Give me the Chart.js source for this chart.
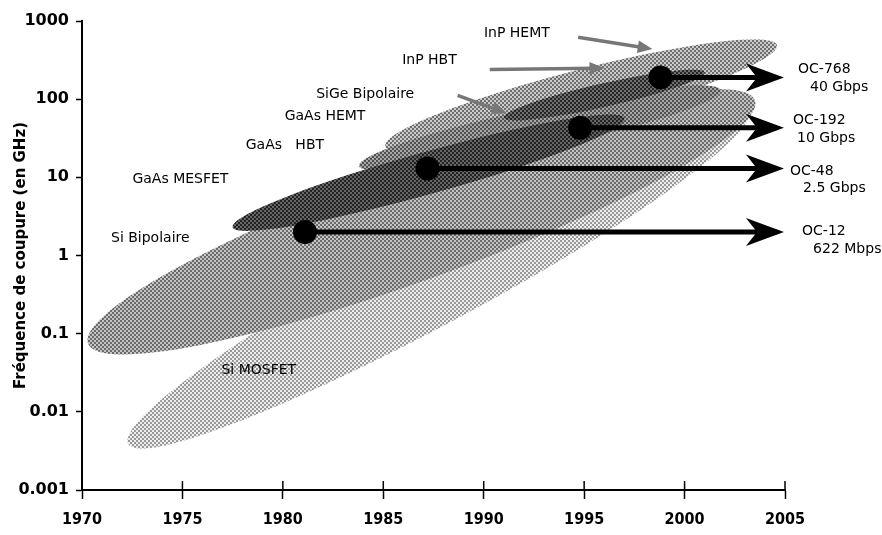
<!DOCTYPE html>
<html>
<head>
<meta charset="utf-8">
<script src="https://cdn.jsdelivr.net/npm/chart.js@4.4.1/dist/chart.umd.min.js"></script>
<style>
  html, body { margin: 0; padding: 0; background: #fff; }
  #wrap { width: 882px; height: 535px; }
</style>
</head>
<body>
<div id="wrap"><canvas id="myChart" width="882" height="535"></canvas></div>
<script>
// axes
const yearTicks = [1970, 1975, 1980, 1985, 1990, 1995, 2000, 2005];
const freqTicks = [0.001, 0.01, 0.1, 1, 10, 100, 1000];
const freqTickLabels = ['0.001', '0.01', '0.1', '1', '10', '100', '1000'];

// technology regions: start tip, end tip (year, GHz), half thickness in decades
const techNames  = ['Si MOSFET', 'Si Bipolaire', 'GaAs HEMT', 'GaAs HBT', 'GaAs MESFET', 'InP HBT'];
const techStart  = [[1972.3, 0.0039], [1970.3, 0.075], [1985.1, 25], [1983.8, 14], [1977.5, 2.3], [1991.0, 58]];
const techEnd    = [[2003.2, 72], [2003.5, 97], [2004.6, 490], [2001.8, 130], [1997.0, 57], [2001.0, 220]];
const techSpread = [0.58, 0.72, 0.33, 0.26, 0.27, 0.15];

// labels of the technologies (text, year, GHz)
const techLabels    = ['InP HEMT', 'InP HBT', 'SiGe Bipolaire', 'GaAs HEMT', 'GaAs   HBT', 'GaAs MESFET', 'Si Bipolaire', 'Si MOSFET'];
const techLabelYear = [1991.65, 1987.3, 1984.1, 1982.1, 1980.1, 1974.9, 1973.4, 1978.8];
const techLabelFreq = [700, 316, 115, 60, 25.5, 9.3, 1.67, 0.034];

// small grey pointers to the InP / SiGe regions
const pointerFrom = [[1994.7, 620], [1990.3, 240], [1988.7, 112]];
const pointerTo   = [[1998.4, 437], [1996.0, 250], [1991.15, 66]];

// milestones and the optical link they allow
const milestoneYear = [1981.1, 1987.2, 1994.8, 1998.8];
const milestoneFreq = [2.0, 13, 43, 190];
const arrowEndYear = 2004.6;
const linkNames = [['OC-12', '622 Mbps'], ['OC-48', '2.5 Gbps'], ['OC-192', '10 Gbps'], ['OC-768', '40 Gbps']];
const linkLabelYear = [[2005.85, 2006.4], [2005.25, 2005.9], [2005.4, 2005.6], [2005.65, 2006.25]];
const linkLabelFreq = [[2.06, 1.21], [11.8, 7.13], [53.4, 31.3], [241, 142]];

// halftone tones (dark dot, light dot) per region
const techTones = [['#999999', '#eeeeee'], ['#6a6a6a', '#c4c4c4'], ['#6e6e6e', '#cccccc'],
                   ['#505050', '#a8a8a8'], ['#222222', '#666666'], ['#252525', '#707070']];

function halftone(ctx, dark, light) {
  const c = document.createElement('canvas');
  c.width = 4; c.height = 4;
  const g = c.getContext('2d');
  g.fillStyle = light; g.fillRect(0, 0, 4, 4);
  g.fillStyle = dark; g.fillRect(0, 0, 2, 2); g.fillRect(2, 2, 2, 2);
  return ctx.createPattern(c, 'repeat');
}

const FONT = '"DejaVu Sans", Verdana, sans-serif';

const regionsPlugin = {
  id: 'regions',
  beforeDatasetsDraw(chart) {
    const ctx = chart.ctx, xs = chart.scales.x, ys = chart.scales.y, a = chart.chartArea;
    const decade = ys.getPixelForValue(1) - ys.getPixelForValue(10);
    ctx.save();
    ctx.beginPath();
    ctx.rect(a.left, a.top, a.right - a.left, a.bottom - a.top);
    ctx.clip();
    techNames.forEach((name, i) => {
      const x1 = xs.getPixelForValue(techStart[i][0]), y1 = ys.getPixelForValue(techStart[i][1]);
      const x2 = xs.getPixelForValue(techEnd[i][0]), y2 = ys.getPixelForValue(techEnd[i][1]);
      const rx = Math.hypot(x2 - x1, y2 - y1) / 2;
      ctx.beginPath();
      ctx.ellipse((x1 + x2) / 2, (y1 + y2) / 2, rx, techSpread[i] * decade, Math.atan2(y2 - y1, x2 - x1), 0, Math.PI * 2);
      ctx.fillStyle = halftone(ctx, techTones[i][0], techTones[i][1]);
      ctx.fill();
    });
    ctx.restore();
  }
};

const notesPlugin = {
  id: 'notes',
  afterDatasetsDraw(chart) {
    const ctx = chart.ctx, xs = chart.scales.x, ys = chart.scales.y, a = chart.chartArea;
    ctx.save();

    // ticks crossing the time axis
    ctx.strokeStyle = '#000';
    ctx.lineWidth = 1.5;
    yearTicks.slice(1).forEach(v => {
      const px = xs.getPixelForValue(v);
      ctx.beginPath();
      ctx.moveTo(px, a.bottom - 9);
      ctx.lineTo(px, a.bottom);
      ctx.stroke();
    });

    // arrow heads at the end of each milestone line
    chart.data.datasets.forEach((ds, i) => {
      const pts = chart.getDatasetMeta(i).data;
      const tipX = pts[pts.length - 1].x + 7, tipY = pts[pts.length - 1].y;
      ctx.fillStyle = '#000';
      ctx.beginPath();
      ctx.moveTo(tipX, tipY);
      ctx.lineTo(tipX - 38, tipY - 14);
      ctx.lineTo(tipX - 27, tipY);
      ctx.lineTo(tipX - 38, tipY + 14);
      ctx.closePath();
      ctx.fill();
    });

    // grey pointers
    ctx.strokeStyle = '#777';
    ctx.fillStyle = '#777';
    ctx.lineWidth = 3.5;
    pointerFrom.forEach((f, i) => {
      const x1 = xs.getPixelForValue(f[0]), y1 = ys.getPixelForValue(f[1]);
      const x2 = xs.getPixelForValue(pointerTo[i][0]), y2 = ys.getPixelForValue(pointerTo[i][1]);
      const ang = Math.atan2(y2 - y1, x2 - x1);
      ctx.beginPath();
      ctx.moveTo(x1, y1);
      ctx.lineTo(x2 - 8 * Math.cos(ang), y2 - 8 * Math.sin(ang));
      ctx.stroke();
      ctx.beginPath();
      ctx.moveTo(x2, y2);
      ctx.lineTo(x2 - 16 * Math.cos(ang - 0.4), y2 - 16 * Math.sin(ang - 0.4));
      ctx.lineTo(x2 - 16 * Math.cos(ang + 0.4), y2 - 16 * Math.sin(ang + 0.4));
      ctx.closePath();
      ctx.fill();
    });

    // texts
    ctx.fillStyle = '#000';
    ctx.font = '14px ' + FONT;
    ctx.textBaseline = 'middle';
    ctx.textAlign = 'center';
    techLabels.forEach((t, i) => {
      ctx.fillText(t, xs.getPixelForValue(techLabelYear[i]), ys.getPixelForValue(techLabelFreq[i]));
    });
    ctx.textAlign = 'left';
    linkNames.forEach((pair, i) => {
      pair.forEach((t, j) => {
        ctx.fillText(t, xs.getPixelForValue(linkLabelYear[i][j]), ys.getPixelForValue(linkLabelFreq[i][j]));
      });
    });
    ctx.restore();
  }
};

const datasets = milestoneYear.map((yr, i) => ({
  label: linkNames[i][0],
  data: [{ x: yr, y: milestoneFreq[i] }, { x: arrowEndYear, y: milestoneFreq[i] }],
  showLine: true,
  borderColor: '#000',
  borderWidth: 5,
  pointRadius: [12, 0],
  pointBackgroundColor: '#000',
  pointBorderWidth: 0,
  clip: false
}));

const config = {
  type: 'scatter',
  data: { datasets: datasets },
  options: {
    responsive: false,
    animation: false,
    events: [],
    layout: { padding: { top: 21, right: 97, bottom: 0, left: 0 } },
    plugins: {
      legend: { display: false },
      tooltip: { enabled: false }
    },
    scales: {
      x: {
        type: 'linear',
        min: 1970,
        max: 2005,
        afterBuildTicks: s => { s.ticks = yearTicks.map(v => ({ value: v })); },
        afterFit: s => { s.height = 45; },
        ticks: {
          color: '#000',
          padding: 11,
          font: { family: '"DejaVu Sans Condensed", "DejaVu Sans", sans-serif', size: 16, weight: 'bold' },
          callback: v => String(v)
        },
        grid: { drawOnChartArea: false, tickLength: 9, tickColor: '#000', tickWidth: 1.5 },
        border: { color: '#000', width: 2 }
      },
      y: {
        type: 'logarithmic',
        min: 0.001,
        max: 1000,
        afterBuildTicks: s => { s.ticks = freqTicks.map(v => ({ value: v })); },
        afterFit: s => { s.width = 82; },
        ticks: {
          color: '#000',
          padding: 7,
          font: { family: FONT, size: 16, weight: 'bold' },
          callback: v => freqTickLabels[freqTicks.indexOf(v)] || ''
        },
        grid: { drawOnChartArea: false, tickLength: 6, tickColor: '#000', tickWidth: 1.5 },
        border: { color: '#000', width: 2 },
        title: {
          display: true,
          text: 'Fréquence de coupure (en GHz)',
          color: '#000',
          font: { family: FONT, size: 15, weight: 'bold' },
          padding: { top: 12, bottom: 2 }
        }
      }
    }
  },
  plugins: [regionsPlugin, notesPlugin]
};

const myChart = new Chart(document.getElementById('myChart'), config);
</script>
</body>
</html>
